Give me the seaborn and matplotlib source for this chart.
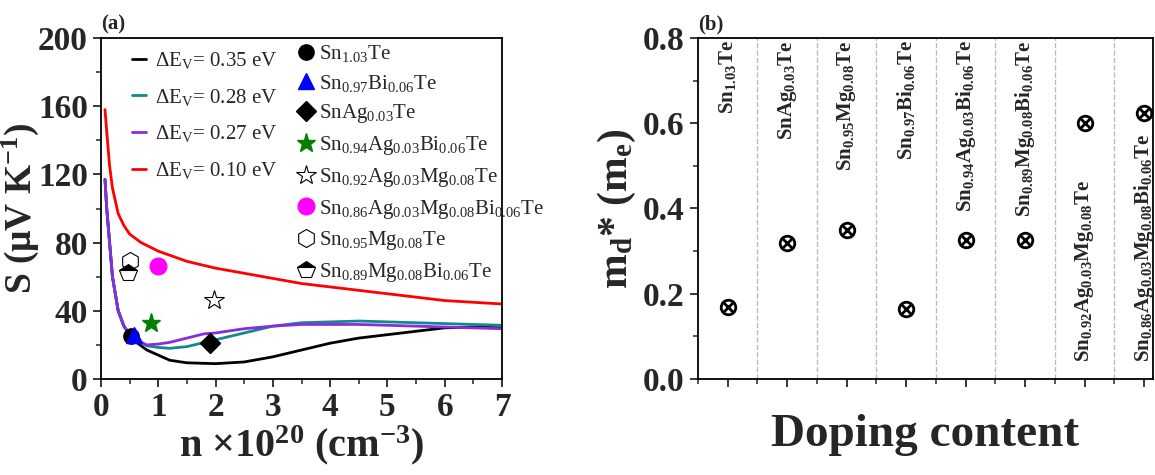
import matplotlib
matplotlib.use("Agg")
import matplotlib.pyplot as plt
import seaborn as sns
import pandas as pd
import numpy as np
from matplotlib.ticker import MultipleLocator

sns.set_style("ticks")
plt.rcParams['font.family'] = ['Liberation Serif', 'DejaVu Serif']
plt.rcParams['mathtext.fontset'] = 'custom'
plt.rcParams['mathtext.rm'] = 'Liberation Serif'
plt.rcParams['mathtext.it'] = 'Liberation Serif:italic'
plt.rcParams['mathtext.bf'] = 'Liberation Serif:bold'

# ---- panel (a) curves ----
x_black = [0.07,0.1,0.2,0.3,0.4,0.5,0.6,0.8,1.0,1.2,1.5,2.0,2.5,3.0,3.5,4.0,4.5,5.0,5.5,6.0,6.5,7.0]
y_black = [117,100,60,40,31,26,22,17,14,11,9.5,9,10,13,17,21,24,26,28,30,30.5,30]
x_teal = [0.07,0.1,0.2,0.3,0.4,0.5,0.6,0.8,1.0,1.2,1.5,2.0,2.5,3.0,3.5,4.0,4.5,5.0,5.5,6.0,6.5,7.0]
y_teal = [117,100,60,40,31,26,23,19.5,18.5,18,19,23,27,31,33,33.5,34,33.5,33,32.5,32,31.5]
x_purple = [0.07,0.1,0.2,0.3,0.4,0.5,0.6,0.8,1.0,1.2,1.5,1.8,2.0,2.5,3.0,3.5,4.0,4.5,5.0,5.5,6.0,6.5,7.0]
y_purple = [117,100,60,40,31,26,23,20,20.5,21.5,24,26.5,27,29.5,31,32,32,32,31.5,31,30.5,30,29.5]
x_red = [0.07,0.1,0.15,0.2,0.3,0.4,0.5,0.7,1.0,1.5,2.0,2.5,3.0,3.5,4.0,4.5,5.0,5.5,6.0,6.5,7.0]
y_red = [158,145,125,112,97,90,85,80,75,69,65,62,59,56,54,52,50,48,46,45,44]
curve_labels = [r'$\Delta$E$_\mathregular{V}$= 0.35 eV', r'$\Delta$E$_\mathregular{V}$= 0.28 eV',
                r'$\Delta$E$_\mathregular{V}$= 0.27 eV', r'$\Delta$E$_\mathregular{V}$= 0.10 eV']
curve_colors = ['black', '#108a8a', '#8a2be2', 'red']

# ---- panel (a) samples ----
sample_names = [r'Sn$_{1.03}$Te', r'Sn$_{0.97}$Bi$_{0.06}$Te', r'SnAg$_{0.03}$Te',
                r'Sn$_{0.94}$Ag$_{0.03}$Bi$_{0.06}$Te', r'Sn$_{0.92}$Ag$_{0.03}$Mg$_{0.08}$Te',
                r'Sn$_{0.86}$Ag$_{0.03}$Mg$_{0.08}$Bi$_{0.06}$Te', r'Sn$_{0.95}$Mg$_{0.08}$Te',
                r'Sn$_{0.89}$Mg$_{0.08}$Bi$_{0.06}$Te']
sample_n = [0.52, 0.58, 1.9, 0.88, 1.98, 1.0, 0.5, 0.48]
sample_S = [25, 26, 21, 33, 46.5, 66, 69, 62]

# ---- panel (b) ----
b_labels = [r'$\mathbf{Sn_{1.03}Te}$', r'$\mathbf{SnAg_{0.03}Te}$', r'$\mathbf{Sn_{0.95}Mg_{0.08}Te}$',
            r'$\mathbf{Sn_{0.97}Bi_{0.06}Te}$', r'$\mathbf{Sn_{0.94}Ag_{0.03}Bi_{0.06}Te}$',
            r'$\mathbf{Sn_{0.89}Mg_{0.08}Bi_{0.06}Te}$', r'$\mathbf{Sn_{0.92}Ag_{0.03}Mg_{0.08}Te}$',
            r'$\mathbf{Sn_{0.86}Ag_{0.03}Mg_{0.08}Bi_{0.06}Te}$']
b_values = [0.17, 0.32, 0.35, 0.165, 0.325, 0.325, 0.60, 0.625]

fig = plt.figure(figsize=(11.55, 4.75), dpi=100)
ax1 = fig.add_axes([101/1155, 1-379/475, 401/1155, 341/475])
ax2 = fig.add_axes([698/1155, 1-379/475, 455/1155, 341/475])

for xs, ys, lab, c in zip([x_black, x_teal, x_purple, x_red], [y_black, y_teal, y_purple, y_red],
                          curve_labels, curve_colors):
    sns.lineplot(x=xs, y=ys, ax=ax1, color=c, lw=2, label=lab, sort=False, estimator=None)

styles = [dict(marker='o', color='black', ms=11, ls='none'),
          dict(marker='^', color='blue', ms=12, ls='none'),
          dict(marker='D', color='black', ms=10, ls='none'),
          dict(marker='*', color='green', ms=14, ls='none'),
          dict(marker='*', mfc='white', mec='black', ms=15, mew=0.8, ls='none'),
          dict(marker='o', color='magenta', ms=12, ls='none'),
          dict(marker='h', mfc='white', mec='black', ms=13, mew=0.8, ls='none'),
          dict(marker='p', mfc='black', mfcalt='white', fillstyle='top', mec='black', ms=13, mew=0.8, ls='none')]
handles = []
for xv, yv, st in zip(sample_n, sample_S, styles):
    h, = ax1.plot([xv], [yv], zorder=5, **st)
    handles.append(h)
leg1 = ax1.legend(loc='upper left', bbox_to_anchor=(0.03, 1.02), frameon=False, fontsize=15,
                  handlelength=0.7, handletextpad=0.4, labelspacing=0.75)
ax1.add_artist(leg1)
ax1.legend(handles, sample_names, loc='upper left', bbox_to_anchor=(0.47, 1.01), frameon=False,
           fontsize=15, handlelength=0.8, handletextpad=0.2, labelspacing=0.42, borderaxespad=0)

ax1.set_xlim(0, 7)
ax1.set_ylim(0, 200)
ax1.xaxis.set_major_locator(MultipleLocator(1))
ax1.xaxis.set_minor_locator(MultipleLocator(0.5))
ax1.yaxis.set_major_locator(MultipleLocator(40))
ax1.yaxis.set_minor_locator(MultipleLocator(20))
ax1.set_xlabel(r'n $\mathbf{\times}$10$^\mathbf{20}$ (cm$^\mathbf{-3}$)', fontsize=29, fontweight='bold', labelpad=0)
ax1.set_ylabel(r'S ($\mathbf{\mu}$V K$^\mathbf{-1}$)', fontsize=27, fontweight='bold', labelpad=-2)
ax1.text(0.0, 1.01, '(a)', transform=ax1.transAxes, fontsize=15, fontweight='bold', va='bottom', ha='left')

pos = list(range(len(b_values)))
sns.scatterplot(x=pos, y=b_values, ax=ax2, marker='o', s=110, facecolor='white', edgecolor='black',
                linewidth=2, zorder=4)
sns.scatterplot(x=pos, y=b_values, ax=ax2, marker='x', s=45, color='black', linewidth=2, zorder=5)
for i, lab in enumerate(b_labels):
    if i < 6:
        ax2.text(i, 0.795, lab, rotation=90, ha='center', va='top', fontsize=15)
    else:
        ax2.text(i, 0.04, lab, rotation=90, ha='center', va='bottom', fontsize=15)
for i in range(len(b_values) - 1):
    ax2.axvline(i + 0.5, color='#bbbbbb', ls='--', lw=1, zorder=1)
ax2.set_xlim(-0.5, 7.15)
ax2.set_ylim(0, 0.8)
ax2.set_xticks(pos)
ax2.set_xticks([i + 0.5 for i in range(-1, 7)], minor=True)
ax2.set_xticklabels([])
ax2.yaxis.set_major_locator(MultipleLocator(0.2))
ax2.yaxis.set_minor_locator(MultipleLocator(0.1))
ax2.yaxis.set_major_formatter(matplotlib.ticker.FormatStrFormatter('%.1f'))
ax2.set_xlabel('Doping content', fontsize=34, fontweight='bold', labelpad=16)
ax2.set_ylabel(r'm$_\mathregular{d}$* (m$_\mathregular{e}$)', fontsize=30, fontweight='bold', labelpad=4)
ax2.text(0.0, 1.01, '(b)', transform=ax2.transAxes, fontsize=15, fontweight='bold', va='bottom', ha='left')

for ax in (ax1, ax2):
    for sp in ax.spines.values():
        sp.set_linewidth(1.3)
        sp.set_color('black')
    ax.tick_params(which='major', direction='out', length=6, width=1.3, labelsize=24)
    ax.tick_params(which='minor', direction='out', length=3.5, width=1.1)
    for t in ax.get_yticklabels() + ax.get_xticklabels():
        t.set_fontweight('bold')

fig.savefig('out.png', dpi=100)
